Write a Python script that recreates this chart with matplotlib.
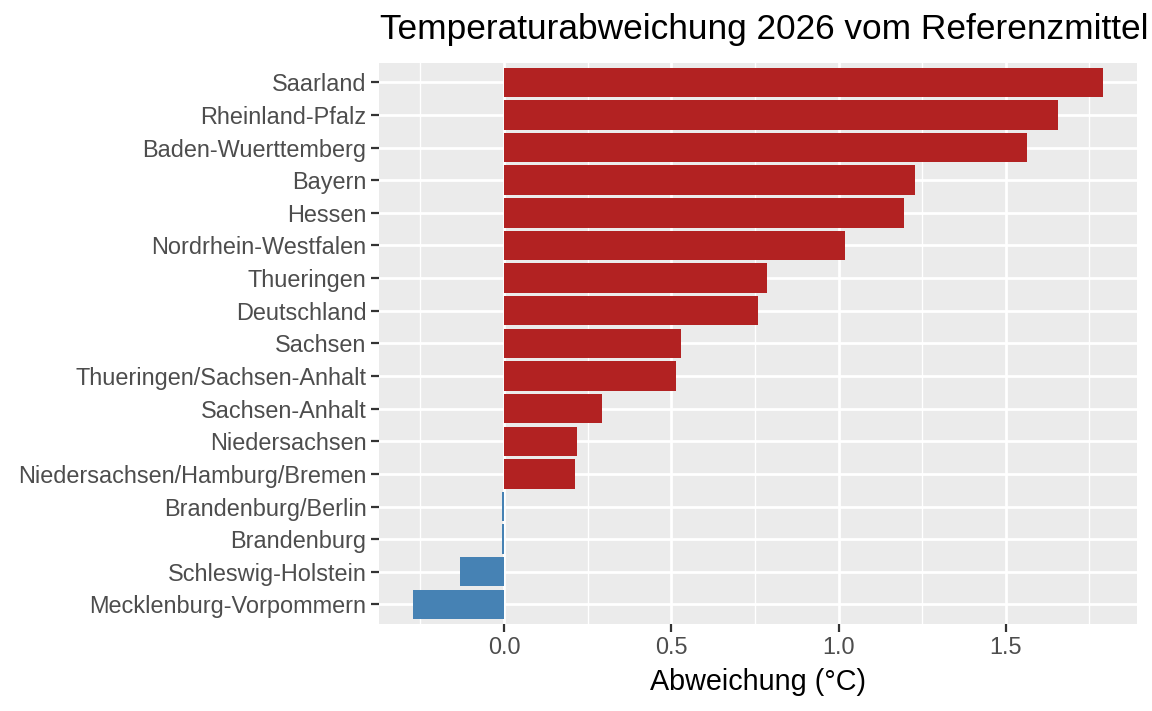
import matplotlib
matplotlib.use("Agg")
import matplotlib.pyplot as plt
from matplotlib.ticker import MultipleLocator

plt.rcParams['font.family'] = ['Liberation Sans', 'DejaVu Sans']

regions = ["Saarland", "Rheinland-Pfalz", "Baden-Wuerttemberg", "Bayern", "Hessen",
           "Nordrhein-Westfalen", "Thueringen", "Deutschland", "Sachsen",
           "Thueringen/Sachsen-Anhalt", "Sachsen-Anhalt", "Niedersachsen",
           "Niedersachsen/Hamburg/Bremen", "Brandenburg/Berlin", "Brandenburg",
           "Schleswig-Holstein", "Mecklenburg-Vorpommern"]
deviation = [1.789, 1.657, 1.562, 1.228, 1.195, 1.018, 0.785, 0.758, 0.528,
             0.513, 0.293, 0.218, 0.212, -0.006, -0.005, -0.132, -0.271]
xticks = [0.0, 0.5, 1.0, 1.5]
xticklabels = ["0.0", "0.5", "1.0", "1.5"]
title = "Temperaturabweichung 2026 vom Referenzmittel"
xlabel = "Abweichung (°C)"

RED = "#B22222"
BLUE = "#4682B4"

fig = plt.figure(figsize=(11.52, 7.11), dpi=100)
ax = fig.add_axes([379/1152, 1-624/711, (1137-379)/1152, (624-62.7)/711])
ax.set_facecolor("#EBEBEB")

n = len(regions)
ypos = list(range(n, 0, -1))
colors = [RED if v > 0 else BLUE for v in deviation]
ax.barh(ypos, deviation, height=0.9, color=colors, zorder=3, linewidth=0)

lo, hi = min(deviation + [0]), max(deviation)
span = hi - lo
ax.set_xlim(lo - 0.05*span, hi + 0.05*span)
ax.set_ylim(0.4, n + 0.6)

ax.set_xticks(xticks)
ax.set_xticklabels(xticklabels)
ax.xaxis.set_minor_locator(MultipleLocator(0.25))
ax.set_yticks(ypos)
ax.set_yticklabels(regions)

ax.grid(which="major", color="white", linewidth=2.0, zorder=1)
ax.grid(which="minor", axis="x", color="white", linewidth=1.0, zorder=1)
for s in ax.spines.values():
    s.set_visible(False)
ax.tick_params(axis="both", which="major", length=5.5, width=1.6, color="#333333",
               labelcolor="#4D4D4D", labelsize=16.9, pad=3.5)
ax.tick_params(axis="both", which="minor", length=0)

ax.set_xlabel(xlabel, fontsize=20.7, color="black", labelpad=6)
ax.set_title(title, fontsize=25.4, color="black", loc="left", x=0.001, pad=17)

fig.savefig("out.png", dpi=100)
